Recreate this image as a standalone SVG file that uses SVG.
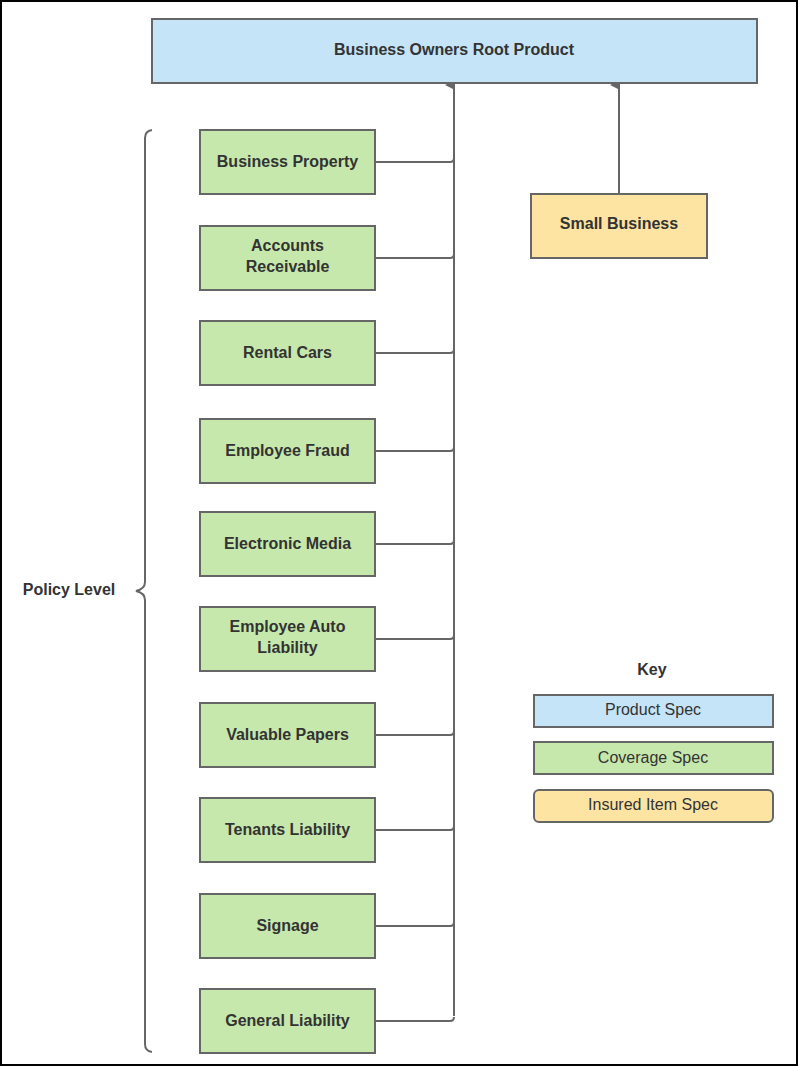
<svg xmlns="http://www.w3.org/2000/svg" width="798" height="1066" viewBox="0 0 798 1066">
<style>
.b{stroke:#666;stroke-width:2}
.g{fill:#c7e8ac}
.t{font-family:"Liberation Sans",Arial,sans-serif;font-weight:bold;font-size:16px;fill:#333;text-anchor:middle}
.k{font-family:"Liberation Sans",Arial,sans-serif;font-size:16px;fill:#333;text-anchor:middle}
.c{fill:none;stroke:#666;stroke-width:2}
</style>
<defs><marker id="a" markerWidth="10" markerHeight="10" refX="5" refY="9" orient="auto" markerUnits="userSpaceOnUse" viewBox="0 0 10 10"><path d="M0,10 L5,0 L10,10 Z" fill="#666"/></marker></defs>
<rect x="1" y="1" width="796" height="1064" fill="#fff" stroke="#000" stroke-width="2"/>
<g id="connectors">
<path class="c" d="M454,1016 L454,85" marker-end="url(#a)"/>
<path class="c" d="M619,194 L619,85" marker-end="url(#a)"/>
<path class="c" d="M375,162 H450 Q454,162 454,158 M375,258 H450 Q454,258 454,254 M375,353 H450 Q454,353 454,349 M375,451 H450 Q454,451 454,447 M375,544 H450 Q454,544 454,540 M375,639 H450 Q454,639 454,635 M375,735 H450 Q454,735 454,731 M375,830 H450 Q454,830 454,826 M375,926 H450 Q454,926 454,922 M375,1021 H450 Q454,1021 454,1017"/>
</g>
<g id="root"><rect class="b" x="152" y="19" width="605" height="64" fill="#c5e4f7"/><text class="t" x="454" y="55" font-size="20">Business Owners Root Product</text></g>
<g id="small-business"><rect class="b" x="531" y="194" width="176" height="64" fill="#fde4a3"/><text class="t" x="619" y="229">Small Business</text></g>
<g id="n1"><rect class="b g" x="200" y="130" width="175" height="64"/><text class="t" x="287.5" y="167">Business Property</text></g>
<g id="n2"><rect class="b g" x="200" y="226" width="175" height="64"/><text class="t" x="287.5" y="251">Accounts</text><text class="t" x="287.5" y="272">Receivable</text></g>
<g id="n3"><rect class="b g" x="200" y="321" width="175" height="64"/><text class="t" x="287.5" y="358">Rental Cars</text></g>
<g id="n4"><rect class="b g" x="200" y="419" width="175" height="64"/><text class="t" x="287.5" y="456">Employee Fraud</text></g>
<g id="n5"><rect class="b g" x="200" y="512" width="175" height="64"/><text class="t" x="287.5" y="549">Electronic Media</text></g>
<g id="n6"><rect class="b g" x="200" y="607" width="175" height="64"/><text class="t" x="287.5" y="632">Employee Auto</text><text class="t" x="287.5" y="653">Liability</text></g>
<g id="n7"><rect class="b g" x="200" y="703" width="175" height="64"/><text class="t" x="287.5" y="740">Valuable Papers</text></g>
<g id="n8"><rect class="b g" x="200" y="798" width="175" height="64"/><text class="t" x="287.5" y="835">Tenants Liability</text></g>
<g id="n9"><rect class="b g" x="200" y="894" width="175" height="64"/><text class="t" x="287.5" y="931">Signage</text></g>
<g id="n10"><rect class="b g" x="200" y="989" width="175" height="64"/><text class="t" x="287.5" y="1026">General Liability</text></g>
<g id="brace"><path class="c" stroke-width="2.5" d="M152,130 Q145,131 145,138 L145,582 Q145,589 136,591 Q145,593 145,600 L145,1044 Q145,1051 152,1052"/><text class="t" x="69" y="595">Policy Level</text></g>
<g id="key">
<text class="t" x="652" y="675">Key</text>
<rect class="b" x="534" y="695" width="239" height="32" fill="#c5e4f7"/><text class="k" x="653" y="715">Product Spec</text>
<rect class="b g" x="534" y="742" width="239" height="32"/><text class="k" x="653" y="763">Coverage Spec</text>
<rect class="b" x="534" y="790" width="239" height="32" rx="5" fill="#fde4a3"/><text class="k" x="653" y="810">Insured Item Spec</text>
</g>
</svg>
